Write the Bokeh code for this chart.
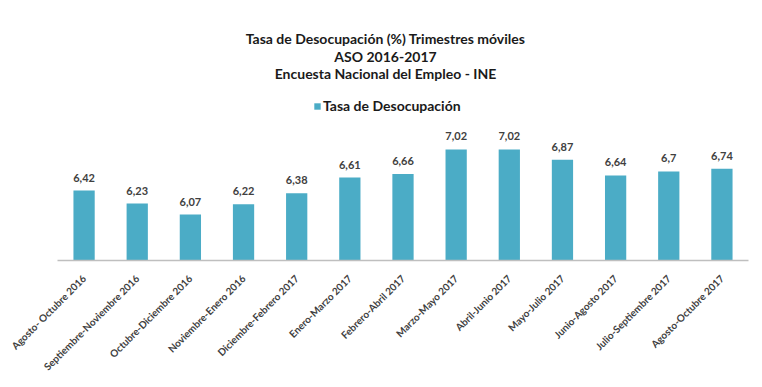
import math
from bokeh.plotting import figure
from bokeh.models import ColumnDataSource, Range1d, Label, Legend, LegendItem
from bokeh.core.properties import value
from bokeh.embed import file_html
from bokeh.resources import INLINE

categories = [
    "Agosto- Octubre 2016", "Septiembre-Noviembre 2016", "Octubre-Diciembre 2016",
    "Noviembre-Enero 2016", "Diciembre-Febrero 2017", "Enero-Marzo 2017",
    "Febrero-Abril 2017", "Marzo-Mayo 2017", "Abril-Junio 2017", "Mayo-Julio 2017",
    "Junio-Agosto 2017", "Julio-Septiembre 2017", "Agosto-Octubre 2017",
]
tasa = [6.42, 6.23, 6.07, 6.22, 6.38, 6.61, 6.66, 7.02, 7.02, 6.87, 6.64, 6.7, 6.74]
value_labels = [str(v).replace(".", ",") for v in tasa]
title_lines = [
    "Tasa de Desocupación (%) Trimestres móviles",
    "ASO 2016-2017",
    "Encuesta Nacional del Empleo - INE",
]
series_name = "Tasa de Desocupación"

FONT = "Lato"
BAR = "#4BACC6"

src = ColumnDataSource(dict(cat=categories, val=tasa, lab=value_labels))

p = figure(
    x_range=categories, y_range=Range1d(5.4, 9.076),
    width=754, height=379, output_backend="svg", toolbar_location=None,
    min_border_left=57, min_border_right=6, min_border_top=8, min_border_bottom=117,
)
p.outline_line_color = None
p.background_fill_color = "white"
p.border_fill_color = "white"
p.xgrid.visible = False
p.ygrid.visible = False
p.yaxis.visible = False

bars = p.vbar(x="cat", top="val", bottom=5.4, width=0.4, source=src,
              fill_color=BAR, line_color=None)

p.text(x="cat", y="val", text="lab", source=src, y_offset=-13,
       text_align="center", text_baseline="middle",
       text_font=value(FONT), text_font_style="bold", text_font_size="11px",
       text_color="#404040")

ax = p.xaxis[0]
ax.axis_line_color = "#BFBFBF"
ax.axis_line_width = 1.5
ax.major_tick_line_color = None
ax.minor_tick_line_color = None
ax.major_label_orientation = math.pi / 4
ax.major_label_standoff = 10
ax.major_label_text_font = FONT
ax.major_label_text_font_style = "bold"
ax.major_label_text_font_size = "10px"
ax.major_label_text_color = "#404040"

for txt, y in zip(title_lines, [222, 204, 187]):
    p.add_layout(Label(x=328, y=y, x_units="screen", y_units="screen", text=txt,
                       text_align="center", text_baseline="middle",
                       text_font=FONT, text_font_style="bold",
                       text_font_size="14px", text_color="#1a1a1a"))

legend = Legend(items=[LegendItem(label=series_name, renderers=[bars])],
                location=(256, 146), orientation="horizontal",
                glyph_width=8, glyph_height=8, label_standoff=2,
                padding=0, margin=0, border_line_color=None,
                background_fill_alpha=0,
                label_text_font=FONT, label_text_font_style="bold",
                label_text_font_size="14px", label_text_color="#1a1a1a")
p.add_layout(legend)

open("out.html", "w").write(file_html(p, INLINE))
